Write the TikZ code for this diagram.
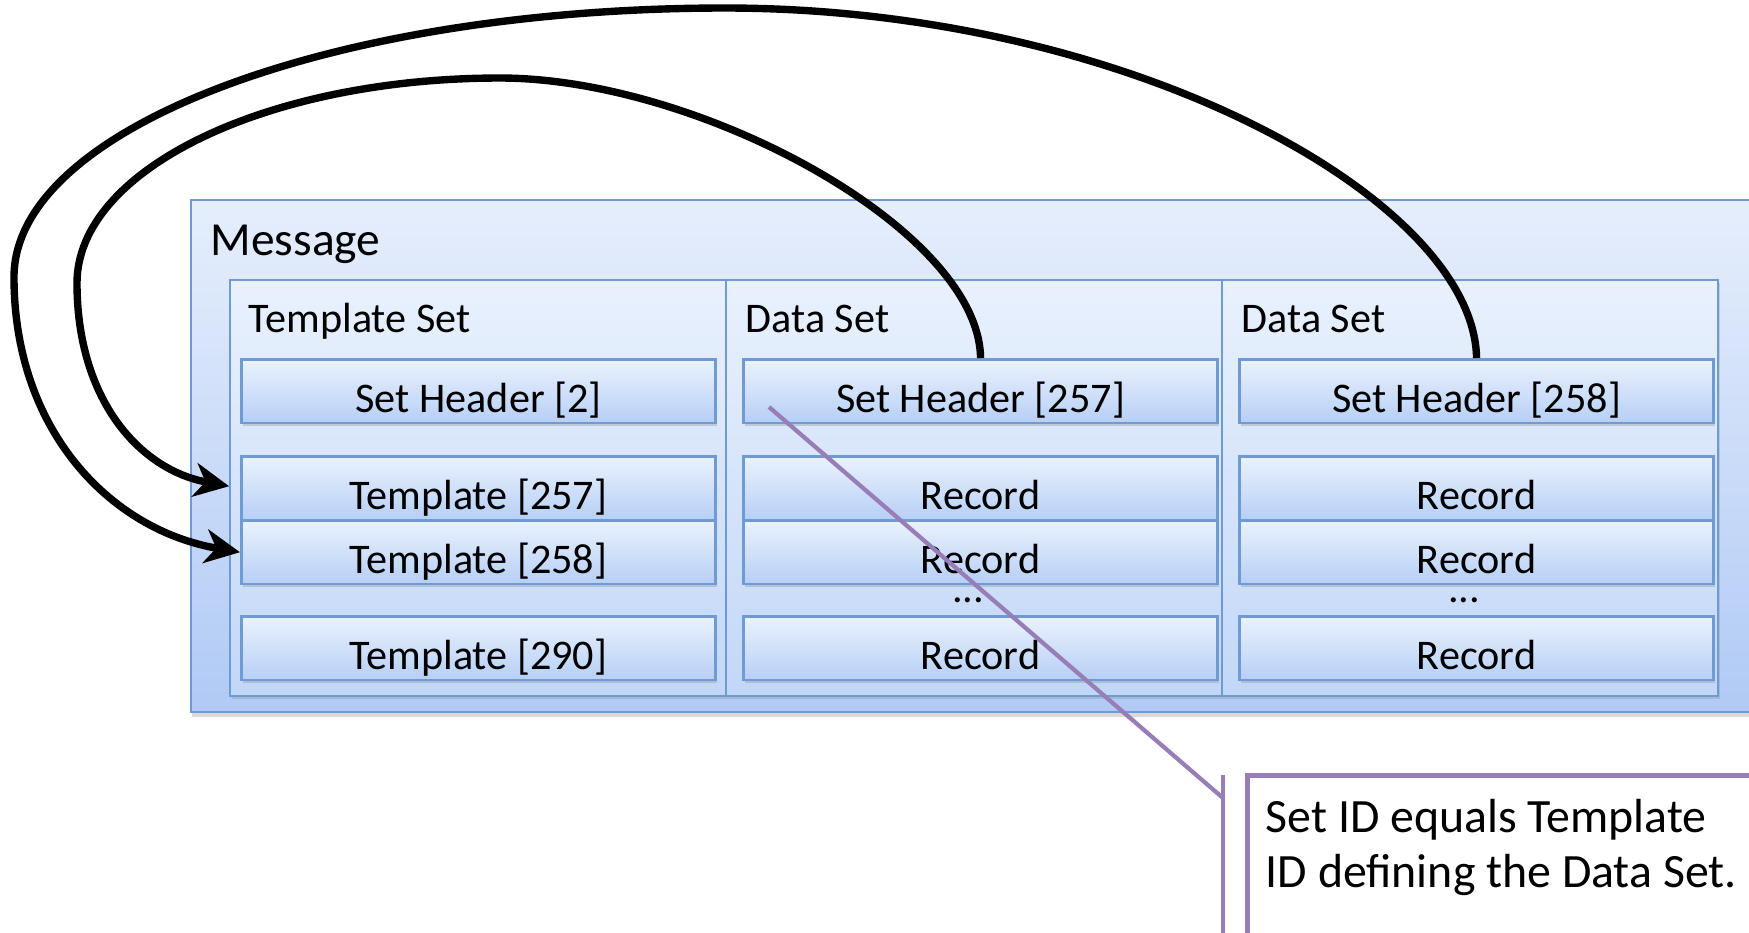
\documentclass[tikz,border=0pt]{standalone}
\usepackage{fontspec}
\setmainfont{Carlito}
\usetikzlibrary{arrows.meta,shadows}

\definecolor{boxline}{RGB}{112,155,210}
\definecolor{msgtop}{RGB}{230,238,252}
\definecolor{msgbot}{RGB}{176,202,245}
\definecolor{settop}{RGB}{233,241,253}
\definecolor{setbot}{RGB}{194,215,248}
\definecolor{rowtop}{RGB}{235,242,253}
\definecolor{rowbot}{RGB}{182,207,246}
\definecolor{callline}{RGB}{152,126,182}

\tikzset{
	msgbox/.style={draw=boxline,line width=0.6pt,top color=msgtop,bottom color=msgbot,anchor=north west,minimum width=15.8cm,minimum height=5.12cm,drop shadow={shadow xshift=0.3pt,shadow yshift=-1.2pt,opacity=0.3}},
	setbox/.style={draw=boxline,line width=0.6pt,top color=settop,bottom color=setbot,anchor=north west,minimum width=4.96cm,minimum height=4.16cm,drop shadow={shadow xshift=0.6pt,shadow yshift=-0.8pt,opacity=0.25}},
	rowbox/.style={draw=boxline,line width=0.8pt,top color=rowtop,bottom color=rowbot,anchor=north west,inner sep=0pt,minimum width=4.74cm,minimum height=0.635cm,text height=0.42cm,text depth=0pt,font=\fontsize{12}{14}\selectfont,drop shadow={shadow xshift=0.5pt,shadow yshift=-0.9pt,opacity=0.3}},
	setlabel/.style={anchor=base west,inner sep=0pt,font=\fontsize{12}{14}\selectfont},
	dots/.style={anchor=base,inner sep=0pt,font=\fontsize{12}{14}\selectfont},
	link/.style={line width=2.1pt,-{Stealth[length=0.35cm,width=0.34cm,inset=0.11cm]}},
	leader/.style={draw=callline,line width=1.2pt},
	callout/.style={draw=callline,line width=1.4pt,fill=white,anchor=north west,minimum width=5.4cm,minimum height=1.8cm}
}

\begin{document}
\begin{tikzpicture}[x=0.01cm,y=-0.01cm]
	\useasboundingbox (0,0) rectangle (1749,932);
	\clip (0,0) rectangle (1749,932);

	% message and its three sets
	\node[msgbox] (msg) at (190,199) {};
	\node[anchor=base west,inner sep=0pt,font=\fontsize{13.5}{16}\selectfont] (msglbl) at (210,255) {Message};
	\node[setbox] (tset) at (229,279) {};
	\node[setbox] (dset1) at (725,279) {};
	\node[setbox] (dset2) at (1221,279) {};
	\node[setlabel] (tsetlbl) at (248,332) {Template Set};
	\node[setlabel] (dset1lbl) at (745,332) {Data Set};
	\node[setlabel] (dset2lbl) at (1241,332) {Data Set};

	% template set
	\node[rowbox] (sh2) at (240,358) {Set Header [2]};
	\node[rowbox] (t257) at (240,455) {Template [257]};
	\node[rowbox] (t258) at (240,519) {Template [258]};
	\node[rowbox] (t290) at (240,615) {Template [290]};

	% first data set
	\node[rowbox] (sh257) at (742,358) {Set Header [257]};
	\node[rowbox] (rec1a) at (742,455) {Record};
	\node[rowbox] (rec1b) at (742,519) {Record};
	\node[dots] (dots1) at (968,602) {...};
	\node[rowbox] (rec1c) at (742,615) {Record};

	% second data set
	\node[rowbox] (sh258) at (1238,358) {Set Header [258]};
	\node[rowbox] (rec2a) at (1238,455) {Record};
	\node[rowbox] (rec2b) at (1238,519) {Record};
	\node[dots] (dots2) at (1464,602) {...};
	\node[rowbox] (rec2c) at (1238,615) {Record};

	% set id -> template id
	\draw[link,shorten >=0.11cm] (sh257.north) .. controls (979,230) and (700,78) .. (500,78)
		.. controls (266,78) and (77,170) .. (77,283)
		.. controls (77,400) and (140,470) .. (t257.west);
	\draw[link] (sh258.north) .. controls (1474,200) and (1130,8) .. (725,8)
		.. controls (330,8) and (14,129) .. (14,277)
		.. controls (14,430) and (110,530) .. (t258.west);

	% callout
	\coordinate (leadfrom) at (769,407);
	\coordinate (barjoin) at (1223,798);
	\coordinate (bartop) at (1223,775);
	\coordinate (barbot) at (1223,945);
	\draw[leader] (leadfrom) -- (barjoin);
	\draw[leader,line width=1.4pt] (bartop) -- (barbot);
	\node[callout] (note) at (1245,773) {};
	\node[anchor=north west,inner sep=0pt,align=left,font=\fontsize{13.6}{15.6}\selectfont] (notetxt) at (1265,799) {Set ID equals Template\\ID defining the Data Set.};
\end{tikzpicture}
\end{document}
